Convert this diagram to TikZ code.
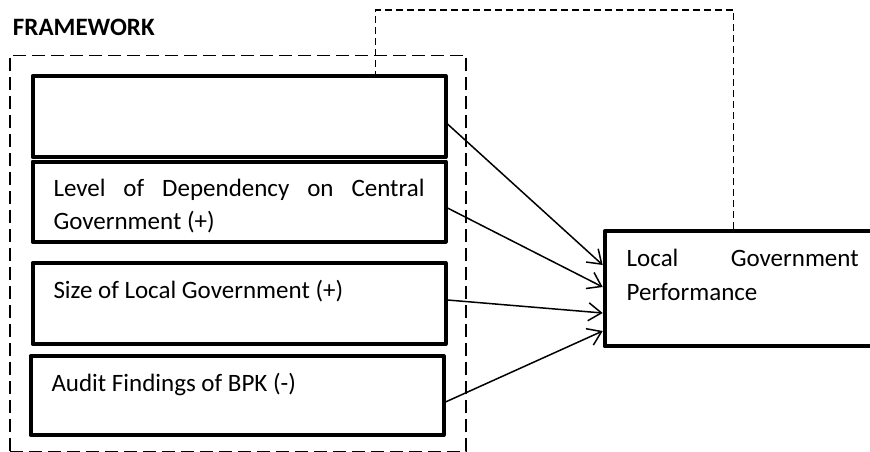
\documentclass[tikz,border=0pt]{standalone}
\usepackage{fontspec}
\setmainfont{Carlito}
\usetikzlibrary{fit}
\usetikzlibrary{arrows.meta}
\hyphenpenalty=10000
\tolerance=10000

\begin{document}
\begin{tikzpicture}[x=1pt, y=1pt, factor/.style={rectangle, draw, line width=4pt, line join=round, anchor=north west, align=justify, text width=371pt, inner xsep=21pt, inner ysep=0pt, text height=35pt, font=\fontsize{25pt}{33pt}\selectfont},result/.style={rectangle, draw, line width=4pt, line join=round, anchor=north west, align=justify, text width=232pt, inner xsep=22pt, inner ysep=0pt, text height=35pt, text depth=80pt, font=\fontsize{25pt}{34pt}\selectfont},link/.style={line width=1.5pt, -{Straight Barb[length=13pt, width=18pt, line width=1.5pt]}}]
	\useasboundingbox (0,0) rectangle (870,451);
	% nodes
	\node[factor, text depth=46pt] (fiscal) at (30.5,377) {};%
	\node[factor, text depth=45pt] (depend) at (30.5,291.5) {Level of Dependency on Central Government (+)};%
	\node[factor, text depth=46pt] (size) at (30.5,190) {Size of Local Government (+)};%
	\node[factor, text depth=44pt] (audit) at (28.5,97) {Audit Findings of BPK (-)};%
	\node[result] (perf) at (602.7,221.7) {Local Government Performance};%

	% plate
	\node[draw, dashed, line width=1.5pt, dash pattern=on 13pt off 6pt, inner xsep=18.5pt, inner ysep=16.5pt, yshift=2.2pt, fit=(fiscal)(audit)] (frame) {};%
	\node[anchor=base west, font=\fontsize{25pt}{30pt}\selectfont\bfseries, inner sep=0pt] (title) at ([xshift=3.5pt, yshift=19pt]frame.north west) {FRAMEWORK};%

	% edges
	\draw [link] ([yshift=-7.5pt]fiscal.east) -- ([yshift=23.8pt]perf.west);
	\draw [link] ([yshift=-6.5pt]depend.east) -- ([yshift=1.8pt]perf.west);
	\draw [link] ([yshift=3.5pt]size.east) -- ([yshift=-24.2pt]perf.west);
	\draw [link] ([yshift=-6.5pt]audit.east) -- ([yshift=-42.2pt]perf.west);
	\draw [line width=1.2pt, dash pattern=on 7pt off 4pt] ([xshift=130.6pt]perf.north west) -- ++(0,219.3) -| ([xshift=345.2pt]fiscal.north west);
\end{tikzpicture}
\end{document}
